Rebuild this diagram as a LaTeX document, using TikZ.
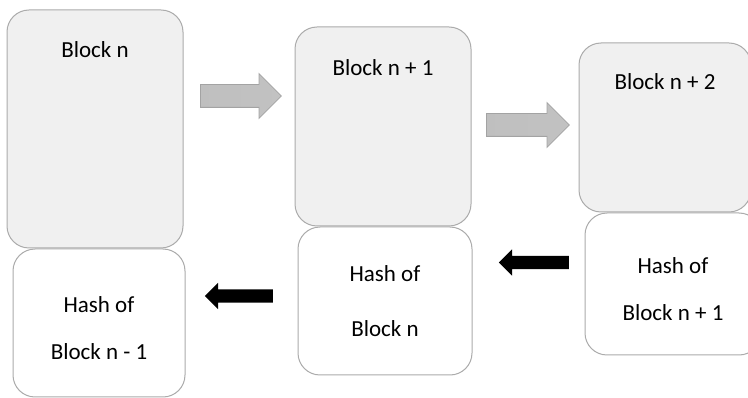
\documentclass[tikz,border=0pt]{standalone}
\usepackage{fontspec}
\setmainfont{Carlito}
\usetikzlibrary{shapes.arrows}

\begin{document}
\begin{tikzpicture}[x=1pt, y=-1pt,
  blockbox/.style={draw=black!33, line width=1pt, fill=black!6, rounded corners=22pt, minimum width=176pt, inner sep=0pt},
  hashbox/.style={draw=black!33, line width=1pt, fill=white, rounded corners=22pt, minimum width=174pt, inner sep=0pt, align=center, font=\fontsize{23}{47}\selectfont},
  blocklabel/.style={anchor=base, font=\fontsize{23}{28}\selectfont},
  fwdarrow/.style={single arrow, anchor=tail, draw=black!36, line width=0.8pt, left color=black!25, middle color=black!15, right color=black!24, single arrow head extend=11pt, inner ysep=11pt, inner xsep=0pt, minimum width=44pt},
  backarrow/.style={single arrow, anchor=tail, fill=black, shape border rotate=180, single arrow head extend=6.5pt, inner ysep=6.5pt, inner xsep=0pt, minimum width=26pt}]
\useasboundingbox (0,0) rectangle (748,398);
\clip (0,0) rectangle (748,398);
% upper row: the blocks
\node[blockbox, minimum height=238pt] (blkN) at (95,129) {};
\node[blockbox, minimum height=199pt] (blkNa) at (383,126.5) {};
\node[blockbox, minimum height=169pt, minimum width=172pt] (blkNb) at (665,127.5) {};
\node[blocklabel] (lblN) at ([yshift=-48pt]blkN.north) {Block n};
\node[blocklabel] (lblNa) at ([yshift=-49pt]blkNa.north) {Block n + 1};
\node[blocklabel] (lblNb) at ([yshift=-47pt]blkNb.north) {Block n + 2};
% lower row: the hashes
\node[hashbox, minimum height=148pt, minimum width=172pt] (hshN) at (99,323) {};
\node[hashbox, minimum height=148pt] (hshNa) at (385,301) {};
\node[hashbox, minimum height=142pt, minimum width=176pt] (hshNb) at (673,284) {};
\node[align=center, font=\fontsize{23}{47}\selectfont] (txtN) at ([yshift=-5pt]hshN.center) {Hash of\\Block n - 1};
\node[align=center, font=\fontsize{23}{55}\selectfont] (txtNa) at (hshNa.center) {Hash of\\Block n};
\node[align=center, font=\fontsize{23}{47}\selectfont] (txtNb) at ([yshift=-5pt]hshNb.center) {Hash of\\Block n + 1};
% arrows
\node[fwdarrow, minimum height=81pt] (fwdA) at (200,96) {};
\node[fwdarrow, minimum height=83pt] (fwdB) at (486,125) {};
\node[backarrow, minimum height=68pt] (backA) at (273,296) {};
\node[backarrow, minimum height=70pt] (backB) at (569,262.5) {};
\end{tikzpicture}
\end{document}
